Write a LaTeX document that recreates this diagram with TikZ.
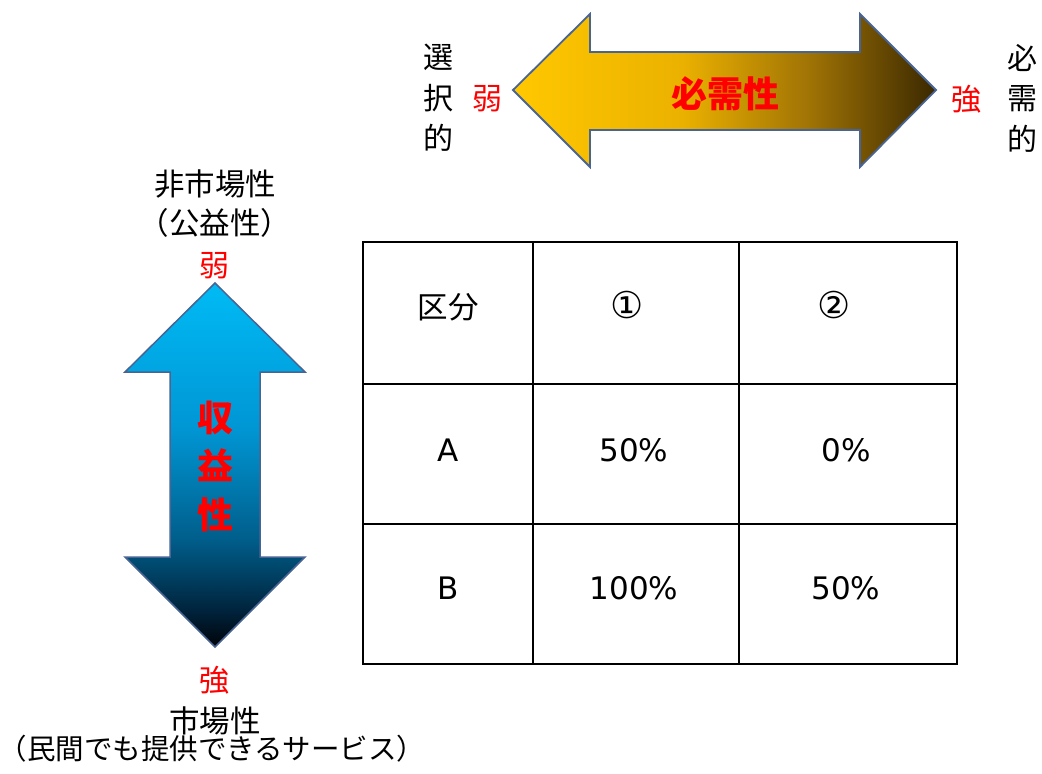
\documentclass[tikz,border=0pt]{standalone}
\usepackage{fontspec}
\newfontfamily\jp{Noto Sans CJK JP}
\newfontfamily\lat{DejaVu Sans}
\definecolor{gA}{RGB}{255,200,0}
\definecolor{gB}{RGB}{235,177,0}
\definecolor{gC}{RGB}{160,115,5}
\definecolor{gD}{RGB}{58,40,0}
\definecolor{bA}{RGB}{0,187,245}
\definecolor{bB}{RGB}{0,150,212}
\definecolor{bC}{RGB}{0,95,140}
\definecolor{bD}{RGB}{0,35,60}
\definecolor{bE}{RGB}{0,3,8}
\definecolor{edgeblue}{RGB}{72,100,148}
\definecolor{labred}{RGB}{255,0,0}
\pgfdeclarehorizontalshading{goldsh}{100bp}{color(0bp)=(gA); color(25bp)=(gA); color(45bp)=(gB); color(60bp)=(gC); color(75bp)=(gD); color(100bp)=(gD)}
\pgfdeclareverticalshading{bluesh}{100bp}{color(0bp)=(bE); color(25bp)=(bE); color(30bp)=(bD); color(40bp)=(bC); color(55bp)=(bB); color(75bp)=(bA); color(100bp)=(bA)}
\tikzset{
  blk/.style={font=\jp\fontsize{30.5}{36}\selectfont, text=black, inner sep=0pt},
  vert/.style={font=\jp\fontsize{30}{40.5}\selectfont, text=black, align=center, inner sep=0pt},
  redlab/.style={font=\jp\fontsize{30}{34}\selectfont, text=labred, inner sep=0pt},
  bigred/.style={font=\jp\bfseries\fontsize{36}{48}\selectfont, text=labred, inner sep=0pt, align=center},
  cell/.style={font=\lat\fontsize{31}{36}\selectfont, text=black, inner sep=0pt},
  cellj/.style={font=\jp\fontsize{30.5}{36}\selectfont, text=black, inner sep=0pt},
  circ/.style={font=\lat\fontsize{37}{40}\selectfont, text=black, inner sep=0pt},
  tline/.style={line width=2.4pt, black},
  arrowedge/.style={draw=edgeblue, line width=1.8pt, line join=miter}
}
\begin{document}
\begin{tikzpicture}[x=1pt,y=-1pt]
\useasboundingbox (0,0) rectangle (1042,774);
% top double arrow
\path[arrowedge, shade, shading=goldsh] (513,90) -- (590,14) -- (590,52) -- (860,52) -- (860,14) -- (936,90) -- (860,167) -- (860,130) -- (590,130) -- (590,167) -- cycle;
\node[bigred] (need) at (725,94) {必需性};
\node[vert] (sentaku) at (438,98) {選\\択\\的};
\node[vert] (hitsuju) at (1022,98) {必\\需\\的};
\node[redlab] (weakT) at (487,99) {弱};
\node[redlab] (strongT) at (966,99) {強};
% left double arrow
\path[arrowedge, line width=1.5pt, shade, shading=bluesh] (215,283) -- (305,372) -- (260,372) -- (260,557) -- (305,557) -- (215,647) -- (125,557) -- (170,557) -- (170,372) -- (125,372) -- cycle;
\node[bigred, font=\jp\bfseries\fontsize{36}{48.5}\selectfont] (shueki) at (215,466) {収\\益\\性};
\node[blk] (hishijo) at (215,184) {非市場性};
\node[blk] (koeki) at (215,223) {（公益性）};
\node[redlab] (weakL) at (214,266) {弱};
\node[redlab] (strongL) at (214,680) {強};
\node[blk] (shijo) at (215,721) {市場性};
\node[blk, font=\jp\fontsize{28.5}{34}\selectfont] (minkan) at (212,749) {（民間でも提供できるサービス）};
% table
\coordinate (t00) at (363,242);
\coordinate (t11) at (957,664);
\draw[tline] (t00) rectangle (t11);
\draw[tline] (533,242) -- (533,664);
\draw[tline] (739,242) -- (739,664);
\draw[tline] (363,384) -- (957,384);
\draw[tline] (363,524) -- (957,524);
\node[cellj] (kubun) at (448,307) {区分};
\node[circ] (c1) at (627,305) {①};
\node[circ] (c2) at (834,305) {②};
\node[cell] (ra) at (448,450) {A};
\node[cell] (ra1) at (634,450) {50\%};
\node[cell] (ra2) at (846,450) {0\%};
\node[cell] (rb) at (448,588) {B};
\node[cell] (rb1) at (634,588) {100\%};
\node[cell] (rb2) at (846,588) {50\%};
\end{tikzpicture}
\end{document}
